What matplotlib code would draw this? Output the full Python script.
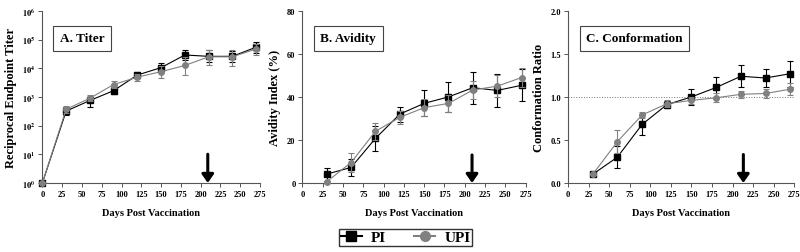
import numpy as np
import matplotlib
matplotlib.use('Agg')
import matplotlib.pyplot as plt
from matplotlib.lines import Line2D

plt.rcParams['font.family'] = ['Liberation Serif', 'DejaVu Serif']
plt.rcParams['font.weight'] = 'bold'
plt.rcParams['mathtext.fontset'] = 'stix'

# days post vaccination
days_a = np.array([0, 30, 60, 90, 120, 150, 180, 210, 240, 270])
days_bc = np.array([30, 60, 90, 120, 150, 180, 210, 240, 270])

# A. titer (value, lower, upper)
titer_pi = np.array([1, 320, 750, 1650, 5800, 10500, 29000, 26000, 26000, 54000])
titer_pi_lo = np.array([1, 230, 430, 1250, 4500, 7800, 19000, 17000, 17000, 35000])
titer_pi_hi = np.array([1, 450, 1000, 2200, 7500, 15000, 42000, 42000, 40000, 80000])
titer_upi = np.array([1, 370, 900, 2700, 4900, 7600, 12500, 25000, 25000, 47000])
titer_upi_lo = np.array([1, 280, 700, 2000, 3500, 4500, 6000, 13000, 12000, 28000])
titer_upi_hi = np.array([1, 480, 1150, 3500, 6500, 12000, 25000, 45000, 42000, 70000])

# B. avidity (%)
avid_pi = np.array([4.1, 7.2, 20.7, 32, 37, 40, 44.3, 43, 45.4])
avid_pi_err = np.array([3, 4, 6, 3.5, 6, 7, 7.5, 7.5, 7.5])
avid_upi = np.array([0.6, 9.5, 24, 30.5, 35, 37, 43.2, 45, 49])
avid_upi_err = np.array([0.5, 4.5, 4, 3, 4, 4, 4, 5, 4.5])

# C. conformation ratio
conf_pi = np.array([0.1, 0.3, 0.68, 0.91, 1.0, 1.11, 1.24, 1.22, 1.27])
conf_pi_err = np.array([0.01, 0.13, 0.12, 0.04, 0.09, 0.12, 0.13, 0.11, 0.15])
conf_upi = np.array([0.1, 0.48, 0.79, 0.92, 0.96, 0.99, 1.03, 1.04, 1.09])
conf_upi_err = np.array([0.01, 0.13, 0.03, 0.04, 0.04, 0.05, 0.04, 0.05, 0.07])

xticks = np.arange(0, 276, 25)
pi_col = 'black'
upi_col = '#808080'

fig = plt.figure(figsize=(8, 2.53), dpi=100)
axA = fig.add_axes([0.053, 0.273, 0.272, 0.68])
axB = fig.add_axes([0.378, 0.273, 0.279, 0.68])
axC = fig.add_axes([0.71, 0.273, 0.283, 0.68])


def style(ax):
    for s in ['top', 'right']:
        ax.spines[s].set_visible(False)
    for s in ['left', 'bottom']:
        ax.spines[s].set_color('#555555')
        ax.spines[s].set_linewidth(0.8)
    ax.set_xlim(0, 275)
    ax.set_xticks(xticks)
    ax.tick_params(direction='out', length=3, width=0.7, labelsize=6, colors='#555555',
                   labelcolor='black', pad=2)
    ax.minorticks_off()
    ax.set_xlabel('Days Post Vaccination', fontsize=7.5, fontweight='bold', labelpad=7)


def series(ax, x, y, yerr, col, mk, ms, lw, z):
    ax.errorbar(x, y, yerr=yerr, color=col, marker=mk, ms=ms, lw=lw, elinewidth=0.8,
                capsize=2, capthick=0.8, zorder=z, clip_on=False)


# panel A
series(axA, days_a, titer_upi, [titer_upi - titer_upi_lo, titer_upi_hi - titer_upi], upi_col, 'o', 4, 0.8, 3)
series(axA, days_a, titer_pi, [titer_pi - titer_pi_lo, titer_pi_hi - titer_pi], pi_col, 's', 4, 0.8, 2)
axA.set_yscale('log')
axA.set_ylim(1, 1e6)
axA.set_yticks([10 ** k for k in range(7)])
axA.set_yticklabels([r'$10^{%d}$' % k for k in range(7)])
style(axA)
axA.set_ylabel('Reciprocal Endpoint Titer', fontsize=9, fontweight='bold', labelpad=4)

# panel B
series(axB, days_bc, avid_upi, avid_upi_err, upi_col, 'o', 4, 0.8, 3)
series(axB, days_bc, avid_pi, avid_pi_err, pi_col, 's', 4, 0.8, 2)
axB.set_ylim(0, 80)
axB.set_yticks([0, 20, 40, 60, 80])
style(axB)
axB.set_ylabel('Avidity Index (%)', fontsize=9, fontweight='bold', labelpad=4)

# panel C
axC.axhline(1.0, color='#777777', lw=0.7, ls=':', zorder=1)
series(axC, days_bc, conf_upi, conf_upi_err, upi_col, 'o', 4, 0.8, 3)
series(axC, days_bc, conf_pi, conf_pi_err, pi_col, 's', 4, 0.8, 2)
axC.set_ylim(0, 2.0)
axC.set_yticks([0.0, 0.5, 1.0, 1.5, 2.0])
axC.set_yticklabels(['0.0', '0.5', '1.0', '1.5', '2.0'])
style(axC)
axC.set_ylabel('Conformation Ratio', fontsize=9, fontweight='bold', labelpad=4)

# panel title boxes
for ax, t in [(axA, 'A. Titer'), (axB, 'B. Avidity'), (axC, 'C. Conformation')]:
    ax.text(0.08, 0.84, t, transform=ax.transAxes, fontsize=9.5, fontweight='bold',
            va='center', ha='left',
            bbox=dict(boxstyle='square,pad=0.5', fc='white', ec='#444444', lw=0.8))

# arrows (boost)
for ax, xa, top, bot in [(axA, 209, 10 ** 1.0, 1), (axB, 209, 13, 0), (axC, 213, 0.33, 0)]:
    ax.annotate('', xy=(xa, bot), xytext=(xa, top),
                arrowprops=dict(arrowstyle='-|>,head_width=0.35,head_length=0.5',
                                color='black', lw=2.2, shrinkA=0, shrinkB=0))

handles = [Line2D([], [], color=pi_col, marker='s', ms=7, lw=1.5),
           Line2D([], [], color=upi_col, marker='o', ms=7, lw=1.5)]
leg = fig.legend(handles, ['PI', 'UPI'], loc='center', bbox_to_anchor=(0.507, 0.058), ncol=2,
                 prop={'family': 'Liberation Serif', 'weight': 'bold', 'size': 11},
                 frameon=True, fancybox=False, handlelength=1.4, columnspacing=1.8,
                 handletextpad=0.6, borderpad=0.1)
leg.get_frame().set_edgecolor('black')
leg.get_frame().set_linewidth(1.0)

fig.savefig('out.png', dpi=100)
